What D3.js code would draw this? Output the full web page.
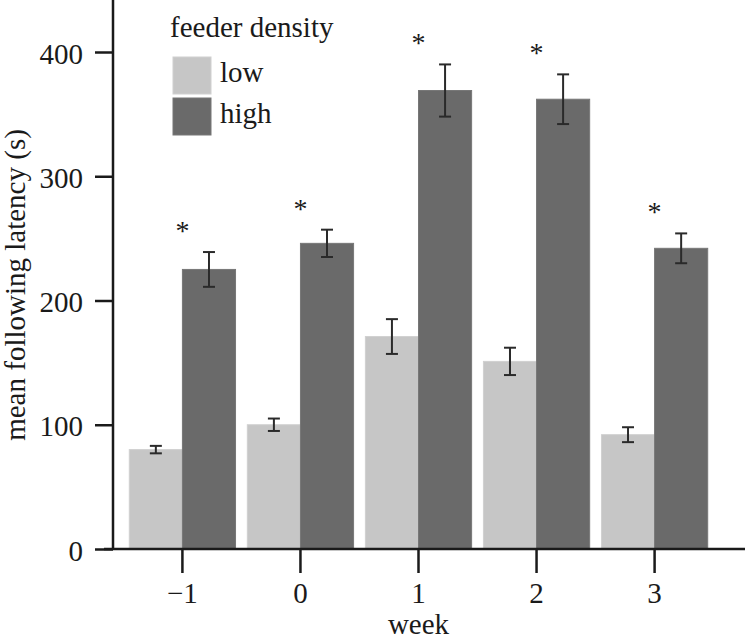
<!DOCTYPE html>
<html><head><meta charset="utf-8">
<script src="https://cdn.jsdelivr.net/npm/d3@7"></script>
<style>
html,body{margin:0;padding:0;background:#fff;}
svg text{font-family:"Liberation Serif","Times New Roman",serif;fill:#1a1a1a;}
</style></head>
<body><svg id="c" width="745" height="640"></svg>
<script>
const weeks = ["\u22121", "0", "1", "2", "3"];
const groups = ["low", "high"];
const lowMean = [80, 100, 171, 151, 92];
const lowErr = [3, 5, 14, 11, 6];
const highMean = [225, 246, 369, 362, 242];
const highErr = [14, 11, 21, 20, 12];
const significant = [true, true, true, true, true];
const yTicks = [0, 100, 200, 300, 400];
const colors = {low: "#c6c6c6", high: "#6a6a6a"};
const FS = 29;

const svg = d3.select("#c");
const x0 = d3.scaleBand().domain(weeks).range([113, 724]).paddingInner(0.1).paddingOuter(0.138);
const x1 = d3.scaleBand().domain(groups).range([0, x0.bandwidth()]);
const y = d3.scaleLinear().domain([0, 400]).range([549, 52]);

const data = weeks.map((w, i) => ({week: w, vals: [
  {g: "low", m: lowMean[i], e: lowErr[i]},
  {g: "high", m: highMean[i], e: highErr[i]}
], sig: significant[i]}));

const g = svg.selectAll("g.grp").data(data).enter().append("g")
  .attr("transform", d => `translate(${x0(d.week)},0)`);
g.selectAll("rect").data(d => d.vals).enter().append("rect")
  .attr("x", d => x1(d.g)).attr("width", x1.bandwidth())
  .attr("y", d => y(d.m)).attr("height", d => y(0) - y(d.m))
  .attr("fill", d => colors[d.g]).attr("stroke", d => d.g === "low" ? "#d0d0d0" : "#777").attr("stroke-width", 1);

const eb = g.selectAll("g.eb").data(d => d.vals).enter().append("g")
  .attr("stroke", "#2a2a2a").attr("stroke-width", 2);
const cx = d => x1(d.g) + x1.bandwidth() / 2;
eb.append("line").attr("x1", cx).attr("x2", cx).attr("y1", d => y(d.m + d.e)).attr("y2", d => y(d.m - d.e));
eb.append("line").attr("x1", d => cx(d) - 6).attr("x2", d => cx(d) + 6).attr("y1", d => y(d.m + d.e)).attr("y2", d => y(d.m + d.e));
eb.append("line").attr("x1", d => cx(d) - 6).attr("x2", d => cx(d) + 6).attr("y1", d => y(d.m - d.e)).attr("y2", d => y(d.m - d.e));

svg.selectAll("text.star").data(data.filter(d => d.sig)).enter().append("text")
  .attr("class", "star").attr("x", d => x0(d.week) + x0.bandwidth() / 2)
  .attr("y", d => y(d.vals[1].m + d.vals[1].e) - 12)
  .attr("text-anchor", "middle").attr("font-size", 28).text("*");

// axes
const yAxis = d3.axisLeft(y).tickValues(yTicks).tickSize(18).tickPadding(12);
const ya = svg.append("g").attr("transform", "translate(113,0)").call(yAxis);
ya.select(".domain").remove();
ya.selectAll(".tick line").attr("stroke", "#1a1a1a").attr("stroke-width", 2.5);
ya.selectAll(".tick text").attr("font-size", FS).attr("font-family", "Liberation Serif").attr("fill", "#1a1a1a").attr("dy", "0.38em");
svg.append("line").attr("x1", 113).attr("x2", 113).attr("y1", 0).attr("y2", 550).attr("stroke", "#1a1a1a").attr("stroke-width", 2.5);

const xAxis = d3.axisBottom(x0).tickSize(24).tickPadding(9);
const xa = svg.append("g").attr("transform", "translate(0,549)").call(xAxis);
xa.select(".domain").remove();
xa.selectAll(".tick line").attr("stroke", "#1a1a1a").attr("stroke-width", 2.5);
xa.selectAll(".tick text").attr("font-size", FS).attr("font-family", "Liberation Serif").attr("fill", "#1a1a1a");
svg.append("line").attr("x1", 104).attr("x2", 745).attr("y1", 549).attr("y2", 549).attr("stroke", "#1a1a1a").attr("stroke-width", 2.5);

svg.append("text").attr("x", x0(weeks[2]) + x0.bandwidth() / 2).attr("y", 634).attr("text-anchor", "middle").attr("font-size", FS).text("week");
svg.append("text").attr("transform", "translate(25,285) rotate(-90)").attr("text-anchor", "middle").attr("font-size", FS).text("mean following latency (s)");

// legend
svg.append("text").attr("x", 170).attr("y", 37).attr("font-size", FS).text("feeder density");
const lg = svg.selectAll("g.lg").data(groups).enter().append("g")
  .attr("transform", (d, i) => `translate(173,${57 + i * 41})`);
lg.append("rect").attr("width", 38).attr("height", 37).attr("fill", d => colors[d]).attr("stroke", d => d === "low" ? "#d0d0d0" : "#777");
lg.append("text").attr("x", 47).attr("y", 25).attr("font-size", FS).text(d => d);
</script></body></html>
